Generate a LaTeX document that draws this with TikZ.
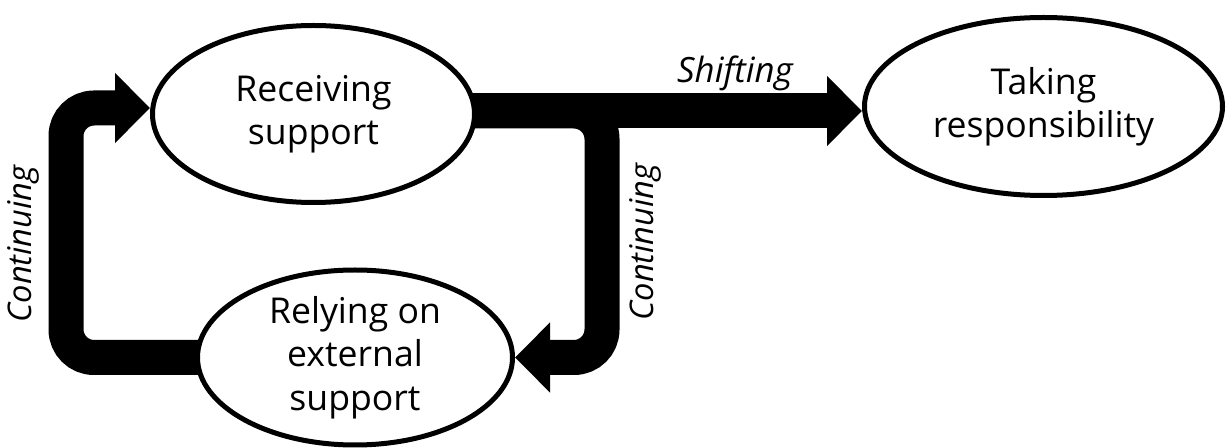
\documentclass[tikz,border=0pt]{standalone}
\usepackage{fontspec}
\setmainfont{Open Sans}
\usetikzlibrary{shapes.geometric,arrows.meta,calc,backgrounds}

\begin{document}
\begin{tikzpicture}[x=0.5pt,y=-0.5pt,
  state/.style={ellipse,draw,line width=2.5pt,fill=white,inner sep=0pt,
    align=center,font=\fontsize{17.8}{21.7}\selectfont},
  flow/.style={line width=17.5pt,rounded corners=14pt,
    -{Triangle[length=17.5pt,width=34pt]}},
  lbl/.style={font=\fontsize{17.4}{20}\selectfont\itshape,inner sep=0pt},
  vlbl/.style={lbl,font=\fontsize{16.3}{20}\selectfont\itshape,rotate=90}]
\useasboundingbox (0,0) rectangle (1226,448);

% states
\node[state,minimum width=161pt,minimum height=88.5pt] (rec) at (313.5,114)
  {Receiving\\support};
\node[state,minimum width=179pt,minimum height=89pt] (tak) at (1043.5,106.5)
  {Taking\\responsibility};
\node[state,minimum width=157.5pt,minimum height=87.5pt] (rel) at (355,357.5)
  {Relying on\\external\\support};

% thick flow arrows, behind the states
\coordinate (out) at ([yshift=1.5pt]rec.center);
\begin{pgfonlayer}{background}
  \draw[flow] (out) -- (out -| tak.west);
  \draw[flow] (out) -| (602,300) |- (rel.east);
  \draw[flow] (rel.center) -| (66,200) |- ([yshift=3pt]rec.west);
\end{pgfonlayer}

% labels
\node[lbl] (shift) at (735,73) {Shifting};
\node[vlbl] (contR) at (645,242) {Continuing};
\node[vlbl] (contL) at (23,244) {Continuing};
\end{tikzpicture}
\end{document}
